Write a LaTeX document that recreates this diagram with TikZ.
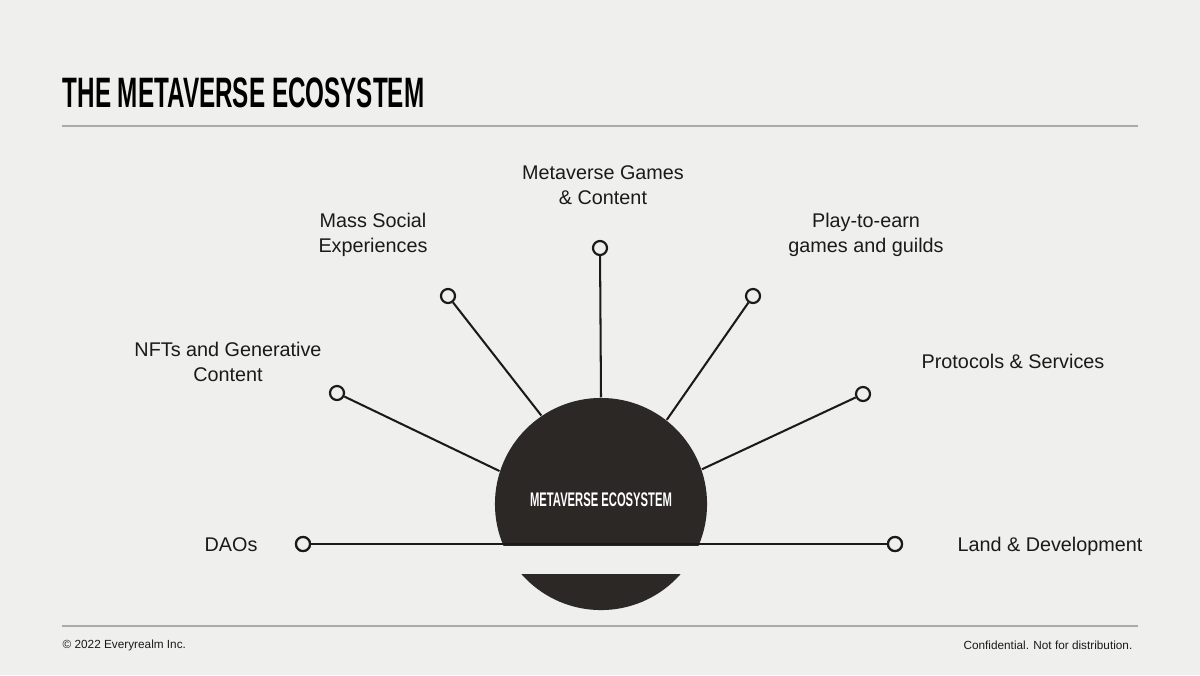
\documentclass[tikz,border=0pt]{standalone}
\usepackage{fontspec}
\setmainfont{Liberation Sans}
\newfontfamily\narrowfont[FakeStretch=0.57]{Liberation Sans}
\usepackage{tikz}
\definecolor{paper}{HTML}{EFEFED}
\definecolor{hubdark}{HTML}{2B2826}
\definecolor{rulegray}{HTML}{ABABAB}
\definecolor{ink}{HTML}{1A1A1A}
\tikzset{dot/.style={circle, draw=ink, line width=0.62pt, fill=paper, minimum size=0.14cm, inner sep=0pt},
  spoke/.style={ink, line width=0.58pt},
  label/.style={text=ink, align=center, inner sep=0pt, font=\fontsize{5.63}{7.1}\selectfont},
  footer/.style={text=ink, inner sep=0pt, font=\fontsize{3.35}{4}\selectfont},
}

\begin{document}
\begin{tikzpicture}[x=0.01cm, y=-0.01cm]
                    % page, pixel units
                    \fill[paper] (0,0) rectangle (1200,675);
                    \useasboundingbox (0,0) rectangle (1200,675);
                    %Heading and rules:
                    \node[anchor=west, inner sep=0pt, text=black, font=\narrowfont\bfseries\fontsize{12.1}{14}\selectfont] (title) at (62,93) {THE METAVERSE ECOSYSTEM};
                    \draw[rulegray, line width=0.4pt] (62,126) -- (1138,126);
                    \draw[rulegray, line width=0.4pt] (62,626) -- (1138,626);
                    \node[footer, anchor=west] (copy) at (62,645) {\textcopyright{} 2022 Everyrealm Inc.};
                    \node[footer, anchor=east] (conf) at (1133,645) {Confidential. Not for distribution.};
                    %Dots at the ends of the spokes
                    \node[dot] (games) at (600,248) {};
                    \node[dot] (social) at (448,296) {};
                    \node[dot] (play) at (753,296) {};
                    \node[dot] (nfts) at (337,393) {};
                    \node[dot] (protocols) at (863,394) {};
                    \node[dot] (daos) at (303,544) {};
                    \node[dot] (land) at (895,544) {};
                    %Hub
                    \node[circle, fill=hubdark, minimum size=2.12cm, inner sep=0pt] (hub) at (601,504) {};
                    \node[text=white, inner sep=0pt, font=\narrowfont\bfseries\fontsize{5.6}{6}\selectfont] (hublabel) at (601,500) {METAVERSE ECOSYSTEM};
                    \fill[paper] (480,545.5) rectangle (720,574);
                    \draw[spoke] (games) -- (hub.90);
                    \draw[spoke] (social) -- (hub.124);
                    \draw[spoke] (play) -- (hub.52);
                    \draw[spoke] (nfts) -- (hub.162);
                    \draw[spoke] (protocols) -- (hub.19);
                    \draw[spoke] (daos) -- (land);
                    \node[dot] at (daos) {};
                    \node[dot] at (land) {};
                    %Labels
                    \node[label] (gameslabel) at (603,185) {Metaverse Games\\\& Content};
                    \node[label] (sociallabel) at (373,235) {Mass Social\\Experiences};
                    \node[label] (playlabel) at (866,235) {Play-to-earn\\games and guilds};
                    \node[label] (nftslabel) at (228,362) {NFTs and Generative\\Content};
                    \node[label] (protocolslabel) at (1013,361) {Protocols \& Services};
                    \node[label] (daoslabel) at (231,545) {DAOs};
                    \node[label] (landlabel) at (1050,546) {Land \& Development};
                \end{tikzpicture}
\end{document}
